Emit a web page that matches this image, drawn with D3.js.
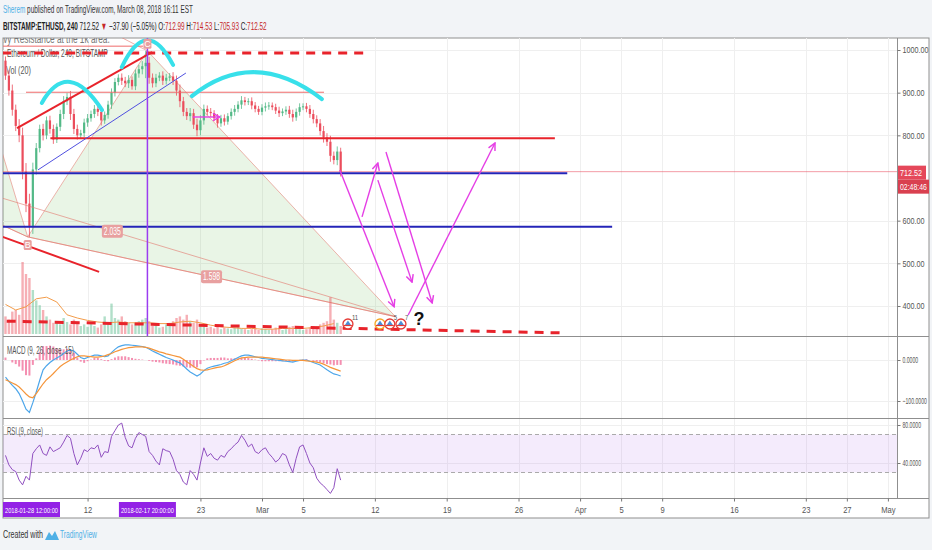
<!DOCTYPE html>
<html>
<head>
<meta charset="utf-8">
<script src="https://cdn.jsdelivr.net/npm/d3@7"></script>
<style>
body { margin: 0; background: #fff; }
svg { display: block; }
text { font-family: "Liberation Sans", Arial, sans-serif; }
</style>
</head>
<body>
<div id="chart"></div>
<script>
// ---- series (8h bars) ----
var barStart = "2018-02-04T00:00:00Z";
var barHours = 8;
var firstOpen = 975;
var closes = [
	940, 905, 860, 822, 800, 715, 640, 585, 720, 770,
	815, 800, 835, 815, 790, 820, 850, 880, 890, 850,
	815, 800, 805, 830, 840, 850, 862, 855, 835, 848,
	872, 900, 925, 935, 928, 922, 930, 915, 945, 955,
	962, 970, 935, 922, 935, 940, 928, 935, 938, 928,
	905, 880, 855, 845, 852, 825, 812, 835, 862, 855,
	852, 840, 828, 840, 832, 845, 855, 862, 872, 882,
	878, 880, 870, 862, 855, 865, 868, 870, 866, 858,
	852, 856, 860, 850, 842, 855, 866, 868, 862, 850,
	838, 828, 810, 795, 785, 752, 742, 762, 712.52
];
var wicks = [
	10, 12, 14, 12, 16, 18, 20, 23, 16, 12,
	10, 12, 9, 11, 10, 8, 10, 12, 9, 14,
	12, 10, 8, 9, 10, 8, 9, 10, 12, 8,
	9, 10, 9, 8, 10, 9, 11, 8, 9, 10,
	12, 28, 14, 10, 9, 8, 10, 9, 8, 10,
	12, 14, 10, 9, 12, 10, 14, 12, 10, 8,
	9, 7, 10, 8, 9, 7, 8, 9, 8, 10,
	8, 7, 9, 8, 7, 8, 9, 8, 7, 8,
	9, 7, 8, 9, 10, 8, 9, 7, 8, 9,
	10, 9, 10, 12, 10, 14, 10, 12, 9
];
var volumes = [
	22, 18, 28, 30, 24, 90, 75, 70, 55, 42,
	36, 30, 22, 18, 14, 16, 12, 20, 15, 12,
	18, 14, 10, 12, 9, 14, 10, 8, 12, 22,
	14, 38, 20, 18, 22, 16, 14, 12, 14, 16,
	18, 20, 16, 10, 12, 8, 9, 12, 14, 16,
	20, 22, 18, 24, 16, 14, 18, 12, 10, 8,
	9, 7, 10, 6, 8, 7, 6, 8, 9, 7,
	6, 5, 6, 8, 5, 7, 6, 5, 6, 8,
	7, 5, 6, 9, 10, 7, 6, 5, 6, 8,
	10, 9, 12, 14, 16, 46, 18, 14, 10
];
// Vol MA(20), one point per day (every 3rd bar)
var volMA = [37, 30, 34, 44, 46, 40, 24, 20, 17, 15, 14, 15, 14, 14, 14, 13, 13,
	15, 16, 14, 11, 9, 8, 7, 7, 6, 6, 7, 7, 7, 8, 10, 13];
var macdLine = [
	-42, -52, -62, -70, -82, -100, -120, -128, -104, -78,
	-50, -24, -14, -6, 0, 5, 10, 16, 22, 24,
	22, 14, 6, 3, 6, 9, 12, 12, 10, 8,
	10, 18, 26, 32, 35, 37, 37, 36, 35, 34,
	33, 31, 27, 22, 18, 14, 10, 6, 3, 0,
	-4, -7, -14, -22, -29, -34, -39, -34, -26, -20,
	-17, -15, -13, -11, -8, -6, -2, 2, 6, 10,
	12, 12, 10, 8, 6, 4, 3, 2, 1, 0,
	-1, -2, -3, -4, -5, -3, -1, 0, 0, -3,
	-6, -9, -12, -18, -24, -29, -34, -36, -39
];
var signalLine = [
	-48, -52, -56, -60, -66, -74, -83, -90, -92, -82,
	-70, -58, -48, -41, -33, -24, -16, -10, -5, 0,
	4, 8, 10, 10, 9, 8, 7, 7, 8, 10,
	13, 16, 20, 23, 26, 28, 30, 31, 32, 32,
	32, 31, 29, 26, 23, 20, 18, 15, 13, 11,
	9, 7, 2, -4, -10, -16, -21, -24, -25, -24,
	-22, -20, -18, -17, -14, -10, -6, -2, 2, 5,
	6, 7, 7, 7, 7, 7, 6, 5, 4, 3,
	2, 1, 0, 0, -1, -1, -1, -1, -2, -3,
	-4, -5, -7, -10, -14, -18, -21, -24, -27
];
var rsiValues = [
	48, 38, 33, 31, 22, 17, 26, 22, 50, 55,
	59, 50, 48, 57, 52, 54, 56, 62, 69, 66,
	50, 38, 45, 54, 52, 56, 55, 59, 46, 52,
	51, 68, 74, 80, 82, 67, 58, 56, 66, 72,
	70, 68, 52, 48, 42, 38, 55, 53, 52, 44,
	32, 28, 20, 17, 32, 28, 22, 40, 56, 47,
	50, 45, 43, 48, 46, 52, 55, 59, 62, 69,
	64, 57, 60, 52, 50, 54, 56, 50, 46, 41,
	44, 50, 48, 38, 30, 45, 57, 59, 50, 40,
	35, 24, 19, 16, 12, 8, 14, 34, 22
];

// ---- axes ----
var priceTicks = [400, 500, 600, 800, 900, 1000];
var macdTicks = [0, -100];
var rsiTicks = [80, 40];
var timeTickDates = ["2018-02-12", "2018-02-23", "2018-03-01", "2018-03-05", "2018-03-12", "2018-03-19",
	"2018-03-26", "2018-04-01", "2018-04-05", "2018-04-09", "2018-04-16", "2018-04-23", "2018-04-27", "2018-05-01"];
var timeTickText = ["12", "23", "Mar", "5", "12", "19", "26", "Apr", "5", "9", "16", "23", "27", "May"];
var markedTimes = ["2018-01-28 12:00:00", "2018-02-17 20:00:00"];

// ---- drawings: [time, price] anchors ----
var patternPts = { X: ["2018-01-17T20:00Z", 775], A: ["2018-01-28T12:00Z", 1250], B: ["2018-02-06T04:00Z", 562],
	C: ["2018-02-17T20:00Z", 998], D: ["2018-03-14T00:00Z", 375] };
var patternRatios = [["X", "D", "2.035"], ["B", "D", "1.598"]];
var redDashed = [
	[["2018-01-30T00:00Z", 993], ["2018-03-11T01:00Z", 993]],
	[["2018-02-01T00:00Z", 366], ["2018-03-30T01:00Z", 337]]
];
var redLines = [
	[["2018-02-05T03:00Z", 817], ["2018-02-18T07:00Z", 995]],
	[["2018-02-03T12:00Z", 564], ["2018-02-13T03:00Z", 480]],
	[["2018-02-08T09:00Z", 793], ["2018-03-29T13:00Z", 793]]
];
var thinRedLines = [
	[["2018-02-06T00:00Z", 901], ["2018-03-07T01:00Z", 901]],
	[["2018-02-01T00:00Z", 1009], ["2018-02-17T10:00Z", 1009]]
];
var blueLines = [
	[["2018-02-01T00:00Z", 711], ["2018-03-30T18:00Z", 711]],
	[["2018-02-01T00:00Z", 586], ["2018-04-04T03:00Z", 586]]
];
var blueDiag = [["2018-02-07T04:00Z", 719], ["2018-02-21T14:00Z", 946]];
var arcs = [
	[["2018-02-07T13:00Z", 876], ["2018-02-10T07:00Z", 925], ["2018-02-13T10:00Z", 859]],
	[["2018-02-15T08:00Z", 960], ["2018-02-17T19:00Z", 1023], ["2018-02-20T08:00Z", 965]],
	[["2018-02-22T04:00Z", 892], ["2018-02-28T08:00Z", 948], ["2018-03-06T20:00Z", 885]]
];
var arrows = [
	[["2018-02-22T06:00Z", 843], ["2018-02-24T22:00Z", 843]],
	[["2018-03-08T14:00Z", 719], ["2018-03-13T21:00Z", 398]],
	[["2018-03-10T18:00Z", 609], ["2018-03-12T07:00Z", 735]],
	[["2018-03-12T07:00Z", 695], ["2018-03-15T15:00Z", 456]],
	[["2018-03-13T02:00Z", 761], ["2018-03-17T14:00Z", 407]],
	[["2018-03-15T06:00Z", 379], ["2018-03-23T17:00Z", 782]]
];
var markTime = "2018-02-17T20:00Z";
var ideaTimes = ["2018-03-09T09:00Z", "2018-03-12T12:00Z", "2018-03-13T11:00Z", "2018-03-14T13:00Z"];
var ideaCounts = ["11", "", "5", "7"];
var ideaRings = ["#e53935", "#f5a623", "#e53935", "#e53935"];
var questionAt = ["2018-03-16T07:00Z", 372];
var lastPrice = 712.52;

// ---- layout ----
var W = 932, H = 550;
var L = 3, R = 897, FR = 929;
var mainTop = 38, mainBot = 336, macdBot = 418, rsiBot = 498, axisBot = 518;

var x = d3.scaleUtc()
	.domain([new Date("2018-02-01T00:00:00Z"), new Date("2018-05-01T00:00:00Z")])
	.range([-25.3, 887.9]);
var y = d3.scaleLinear().domain([400, 1000]).range([306, 50]);
var yVol = d3.scaleLinear().domain([0, 90]).range([334, 262]);
var yMacd = d3.scaleLinear().domain([-100, 0]).range([401, 360]);
var yRsi = d3.scaleLinear().domain([40, 80]).range([463, 425]);

function P(a) { return [x(new Date(a[0])), y(a[1])]; }

// squeeze a text horizontally (the reference uses a narrow font)
function squeeze(node, w) {
	var len = node.getComputedTextLength();
	if (!len) return;
	var ax = +node.getAttribute("x") || 0;
	node.setAttribute("transform", "translate(" + ax + ",0) scale(" + (w / len) + ",1) translate(" + (-ax) + ",0)");
}
function squeezeBy(node, k) { squeeze(node, node.getComputedTextLength() * k); }

var t0 = new Date(barStart);
var bars = closes.map(function(c, i) {
	var o = i === 0 ? firstOpen : closes[i - 1];
	return { t: d3.utcHour.offset(t0, i * barHours), o: o, c: c,
		h: Math.max(o, c) + wicks[i], l: Math.min(o, c) - wicks[i],
		v: volumes[i], macd: macdLine[i], sig: signalLine[i], rsi: rsiValues[i] };
});

var svg = d3.select("#chart").append("svg").attr("width", W).attr("height", H);
var defs = svg.append("defs");
function clip(id, y0, y1) {
	defs.append("clipPath").attr("id", id).append("rect")
		.attr("x", L).attr("y", y0).attr("width", R - L).attr("height", y1 - y0);
}
clip("cMain", mainTop, mainBot);
clip("cMacd", mainBot, macdBot);
clip("cRsi", macdBot, rsiBot);
defs.append("marker").attr("id", "arr").attr("viewBox", "0 0 10 10")
	.attr("refX", 9).attr("refY", 5).attr("markerWidth", 9).attr("markerHeight", 9)
	.attr("markerUnits", "userSpaceOnUse").attr("orient", "auto")
	.append("path").attr("d", "M1,1 L9,5 L1,9").attr("fill", "none")
	.attr("stroke", "#e53ee5").attr("stroke-width", 1.6);

// background + frame
svg.append("rect").attr("width", W).attr("height", H).attr("fill", "#f2f4f7");
svg.append("rect").attr("x", L).attr("y", mainTop).attr("width", FR - L).attr("height", axisBot - mainTop)
	.attr("fill", "#fff").attr("stroke", "#8f8f8f");

// header
var h1 = svg.append("text").attr("x", 3).attr("y", 13).attr("font-size", 11).attr("fill", "#333");
h1.append("tspan").attr("fill", "#4fb0e6").text("Sherem");
h1.append("tspan").text(" published on TradingView.com, March 08, 2018 16:11 EST");
squeeze(h1.node(), 190);
var h2 = svg.append("text").attr("x", 3).attr("y", 30).attr("font-size", 11).attr("fill", "#222");
h2.append("tspan").attr("font-weight", "bold").text("BITSTAMP:ETHUSD, 240");
h2.append("tspan").text(" 712.52 ");
h2.append("tspan").attr("fill", "#c62828").text("▼");
h2.append("tspan").text(" −37.90 (−5.05%) O:");
h2.append("tspan").attr("fill", "#c62828").text("712.99");
h2.append("tspan").text(" H:");
h2.append("tspan").attr("fill", "#c62828").text("714.53");
h2.append("tspan").text(" L:");
h2.append("tspan").attr("fill", "#c62828").text("705.93");
h2.append("tspan").text(" C:");
h2.append("tspan").attr("fill", "#c62828").text("712.52");
squeeze(h2.node(), 264);

// grid
var grid = svg.append("g").attr("stroke", "#efefef").attr("stroke-width", 1);
timeTickDates.forEach(function(d) {
	var xx = Math.round(x(new Date(d))) + 0.5;
	if (xx < R) grid.append("line").attr("x1", xx).attr("x2", xx).attr("y1", mainTop).attr("y2", rsiBot);
});
priceTicks.forEach(function(p) {
	grid.append("line").attr("x1", L).attr("x2", R).attr("y1", Math.round(y(p)) + 0.5).attr("y2", Math.round(y(p)) + 0.5);
});
macdTicks.forEach(function(p) {
	grid.append("line").attr("x1", L).attr("x2", R).attr("y1", Math.round(yMacd(p)) + 0.5).attr("y2", Math.round(yMacd(p)) + 0.5);
});
rsiTicks.forEach(function(p) {
	grid.append("line").attr("x1", L).attr("x2", R).attr("y1", Math.round(yRsi(p)) + 0.5).attr("y2", Math.round(yRsi(p)) + 0.5);
});

// ---- main pane ----
var main = svg.append("g").attr("clip-path", "url(#cMain)");
var pp = {};
Object.keys(patternPts).forEach(function(k) { pp[k] = P(patternPts[k]); });

// pattern triangles
[["X", "A", "B"], ["B", "C", "D"]].forEach(function(tri) {
	main.append("path").attr("d", "M" + tri.map(function(k) { return pp[k].join(","); }).join("L") + "Z")
		.attr("fill", "rgba(120,190,100,0.16)").attr("stroke", "rgba(226,120,110,0.55)").attr("stroke-width", 1);
});

// volume
main.selectAll("rect.vol").data(bars).enter().append("rect").attr("class", "vol")
	.attr("x", function(d) { return x(d.t) - 1.2; }).attr("width", 2.4)
	.attr("y", function(d) { return yVol(d.v); })
	.attr("height", function(d) { return yVol(0) - yVol(d.v); })
	.attr("fill", function(d) { return d.c >= d.o ? "rgba(83,185,135,0.45)" : "rgba(235,77,92,0.45)"; });
main.append("path").datum(volMA)
	.attr("d", d3.line().x(function(d, i) { return x(bars[i * 3].t); }).y(function(d) { return yVol(d); }))
	.attr("fill", "none").attr("stroke", "#f39c4a").attr("stroke-width", 1);

// legend texts
var hv = main.append("text").attr("x", -12).attr("y", 43).attr("font-size", 13).attr("fill", "#777")
	.text("Heavy Resistance at the 1k area.");
squeeze(hv.node(), 122);
var lg = main.append("text").attr("x", 7).attr("y", 57).attr("font-size", 10.5).attr("fill", "#555")
	.text("Ethereum / Dollar, 240, BITSTAMP");
squeeze(lg.node(), 101);
var lv = main.append("text").attr("x", 6).attr("y", 74).attr("font-size", 10.5).attr("fill", "#555").text("Vol (20)");
squeeze(lv.node(), 25);

// candles
var cg = main.append("g");
cg.selectAll("line").data(bars).enter().append("line")
	.attr("x1", function(d) { return x(d.t); }).attr("x2", function(d) { return x(d.t); })
	.attr("y1", function(d) { return y(d.h); }).attr("y2", function(d) { return y(d.l); })
	.attr("stroke", function(d) { return d.c >= d.o ? "#53b987" : "#eb4d5c"; }).attr("stroke-width", 0.8);
cg.selectAll("rect").data(bars).enter().append("rect")
	.attr("x", function(d) { return x(d.t) - 1.1; }).attr("width", 2.2)
	.attr("y", function(d) { return y(Math.max(d.o, d.c)); })
	.attr("height", function(d) { return Math.max(1, Math.abs(y(d.o) - y(d.c))); })
	.attr("fill", function(d) { return d.c >= d.o ? "#53b987" : "#eb4d5c"; });

// pattern lines
[["X", "B"], ["A", "C"], ["X", "D"], ["B", "D"]].forEach(function(s) {
	main.append("line").attr("x1", pp[s[0]][0]).attr("y1", pp[s[0]][1]).attr("x2", pp[s[1]][0]).attr("y2", pp[s[1]][1])
		.attr("stroke", "rgba(226,120,110,0.6)").attr("stroke-width", 1);
});

function seg(g, s, col, w, dash) {
	var a = P(s[0]), b = P(s[1]);
	return g.append("line").attr("x1", a[0]).attr("y1", a[1]).attr("x2", b[0]).attr("y2", b[1])
		.attr("stroke", col).attr("stroke-width", w).attr("stroke-dasharray", dash || null);
}
// last price line (under the drawings)
main.append("line").attr("x1", L).attr("x2", R).attr("y1", y(lastPrice) - 1).attr("y2", y(lastPrice) - 1)
	.attr("stroke", "rgba(235,77,92,0.55)").attr("stroke-width", 1);

thinRedLines.forEach(function(s) { seg(main, s, "#ef6b6b", 1); });
redDashed.forEach(function(s) { seg(main, s, "#e8232b", 3, "9,7"); });
redLines.forEach(function(s) { seg(main, s, "#e8232b", 2); });
blueLines.forEach(function(s) { seg(main, s, "#2424b8", 2); });
seg(main, blueDiag, "#5050e0", 1);

// arcs
arcs.forEach(function(a) {
	var p0 = P(a[0]), p1 = P(a[1]), p2 = P(a[2]);
	var cx = 2 * p1[0] - (p0[0] + p2[0]) / 2, cy = 2 * p1[1] - (p0[1] + p2[1]) / 2;
	var path = d3.path();
	path.moveTo(p0[0], p0[1]);
	path.quadraticCurveTo(cx, cy, p2[0], p2[1]);
	main.append("path").attr("d", path.toString()).attr("fill", "none")
		.attr("stroke", "#38e0ea").attr("stroke-width", 4).attr("stroke-linecap", "round");
});

// vertical mark
var mx = x(new Date(markTime));
main.append("line").attr("x1", mx).attr("x2", mx).attr("y1", mainTop).attr("y2", mainBot)
	.attr("stroke", "#9b3cf0").attr("stroke-width", 1.5);

// arrows
arrows.forEach(function(s) { seg(main, s, "#e53ee5", 1.4).attr("marker-end", "url(#arr)"); });

// ratio labels
patternRatios.forEach(function(r) {
	var a = pp[r[0]], b = pp[r[1]];
	var cx = (a[0] + b[0]) / 2, cy = (a[1] + b[1]) / 2;
	main.append("rect").attr("x", cx - 10.5).attr("y", cy - 6.5).attr("width", 21).attr("height", 13).attr("rx", 2)
		.attr("fill", "#e8a0a0");
	var t = main.append("text").attr("x", cx).attr("y", cy + 3.5).attr("text-anchor", "middle").attr("font-size", 10)
		.attr("fill", "#fff").text(r[2]);
	squeeze(t.node(), 17);
});
// point labels
[["B", 1], ["C", -1]].forEach(function(k) {
	var p = pp[k[0]];
	var yy = k[1] > 0 ? p[1] + 3 : p[1] - 12;
	main.append("rect").attr("x", p[0] - 4).attr("y", yy).attr("width", 8).attr("height", 10).attr("rx", 1.5)
		.attr("fill", "#e8a0a0");
	main.append("text").attr("x", p[0]).attr("y", yy + 8.5).attr("text-anchor", "middle").attr("font-size", 9)
		.attr("fill", "#fff").text(k[0]);
});

// idea markers
ideaTimes.forEach(function(t, i) {
	var cx = x(new Date(t)), cy = 324;
	main.append("circle").attr("cx", cx).attr("cy", cy).attr("r", 5).attr("fill", "#fff")
		.attr("stroke", ideaRings[i]).attr("stroke-width", 1.3);
	main.append("path").attr("d", "M" + (cx - 3) + "," + (cy + 1) + "L" + cx + "," + (cy - 3.5) + "L" + (cx + 3) + "," + (cy + 1) + "Z")
		.attr("fill", "#4a8fd8");
	main.append("line").attr("x1", cx - 4).attr("x2", cx + 4).attr("y1", cy + 1.5).attr("y2", cy + 1.5)
		.attr("stroke", "#e53935").attr("stroke-width", 1.2);
	if (ideaCounts[i]) {
		var n = main.append("text").attr("x", cx + 4).attr("y", cy - 4).attr("font-size", 8)
			.attr("fill", "#555").text(ideaCounts[i]);
		squeezeBy(n.node(), 0.75);
	}
});
var q = P(questionAt);
main.append("text").attr("x", q[0]).attr("y", q[1] + 7).attr("font-size", 18).attr("font-weight", "bold")
	.attr("fill", "#111").attr("text-anchor", "middle").text("?");

// ---- MACD pane ----
var mg = svg.append("g").attr("clip-path", "url(#cMacd)");
mg.selectAll("rect").data(bars).enter().append("rect")
	.attr("x", function(d) { return x(d.t) - 1; }).attr("width", 2)
	.attr("y", function(d) { return Math.min(yMacd(0), yMacd(d.macd - d.sig)); })
	.attr("height", function(d) { return Math.abs(yMacd(d.macd - d.sig) - yMacd(0)); })
	.attr("fill", "#f48fb1");
mg.append("path").datum(bars)
	.attr("d", d3.line().x(function(d) { return x(d.t); }).y(function(d) { return yMacd(d.macd); }))
	.attr("fill", "none").attr("stroke", "#4da6ea").attr("stroke-width", 1.2);
mg.append("path").datum(bars)
	.attr("d", d3.line().x(function(d) { return x(d.t); }).y(function(d) { return yMacd(d.sig); }))
	.attr("fill", "none").attr("stroke", "#f5953a").attr("stroke-width", 1.2);
var ml = mg.append("text").attr("x", 7).attr("y", 354).attr("font-size", 10.5).attr("fill", "#555").text("MACD (9, 26, close, 15)");
squeeze(ml.node(), 67);

// ---- RSI pane ----
var rg = svg.append("g").attr("clip-path", "url(#cRsi)");
rg.append("rect").attr("x", L).attr("width", R - L).attr("y", yRsi(70)).attr("height", yRsi(30) - yRsi(70))
	.attr("fill", "rgba(170,100,230,0.13)");
[70, 30].forEach(function(v) {
	rg.append("line").attr("x1", L).attr("x2", R).attr("y1", yRsi(v)).attr("y2", yRsi(v))
		.attr("stroke", "#aaa").attr("stroke-dasharray", "4,3");
});
rg.append("path").datum(bars)
	.attr("d", d3.line().x(function(d) { return x(d.t); }).y(function(d) { return yRsi(d.rsi); }))
	.attr("fill", "none").attr("stroke", "#9050c0").attr("stroke-width", 1);
var rl = rg.append("text").attr("x", 7).attr("y", 435).attr("font-size", 10.5).attr("fill", "#555").text("RSI (9, close)");
squeeze(rl.node(), 36);

// separators
var sep = svg.append("g").attr("stroke", "#8f8f8f");
[mainBot, macdBot, rsiBot].forEach(function(yy) {
	sep.append("line").attr("x1", L).attr("x2", FR).attr("y1", yy + 0.5).attr("y2", yy + 0.5);
});
sep.append("line").attr("x1", R + 0.5).attr("x2", R + 0.5).attr("y1", mainTop).attr("y2", rsiBot);

// right axes
function rightAxis(scale, ticks, fmt, k) {
	var g = svg.append("g").attr("transform", "translate(" + (R + 0.5) + ",0)")
		.call(d3.axisRight(scale).tickValues(ticks).tickFormat(fmt).tickSize(3).tickPadding(2));
	g.select(".domain").remove();
	g.selectAll("line").attr("stroke", "#777");
	g.selectAll("text").attr("font-size", 9).attr("fill", "#555").attr("font-family", "'Liberation Sans',Arial,sans-serif")
		.each(function() { squeezeBy(this, k); });
}
rightAxis(y, priceTicks, d3.format(".2f"), 0.8);
rightAxis(yMacd, macdTicks, d3.format(".4f"), 0.57);
rightAxis(yRsi, rsiTicks, d3.format(".4f"), 0.57);

// last price labels
var lpY = y(lastPrice);
svg.append("rect").attr("x", R + 1).attr("y", lpY - 7).attr("width", 28).attr("height", 14).attr("fill", "#e5485a");
var lp1 = svg.append("text").attr("x", R + 3).attr("y", lpY + 3.5).attr("font-size", 9.5).attr("fill", "#fff").text("712.52");
squeeze(lp1.node(), 22);
svg.append("rect").attr("x", R + 1).attr("y", lpY + 7).attr("width", 31).attr("height", 14).attr("fill", "#d9404f");
var lp2 = svg.append("text").attr("x", R + 3).attr("y", lpY + 17.5).attr("font-size", 9.5).attr("fill", "#fff").text("02:48:46");
squeeze(lp2.node(), 27);

// time axis
var ta = svg.append("g").attr("transform", "translate(0," + (rsiBot + 0.5) + ")")
	.call(d3.axisBottom(x).tickValues(timeTickDates.map(function(d) { return new Date(d + "T00:00:00Z"); }))
		.tickFormat(function(d, i) { return timeTickText[i]; }).tickSize(3).tickPadding(5));
ta.select(".domain").remove();
ta.selectAll("line").attr("stroke", "#777");
ta.selectAll("text").attr("font-size", 9.5).attr("fill", "#555").attr("font-family", "'Liberation Sans',Arial,sans-serif")
	.each(function() { squeezeBy(this, 0.8); });

// marked times on axis
var mk1x = L, mk2x = x(new Date(markTime)) - 28.5;
[[mk1x, markedTimes[0]], [mk2x, markedTimes[1]]].forEach(function(m) {
	svg.append("rect").attr("x", m[0]).attr("y", 502).attr("width", 57).attr("height", 15).attr("fill", "#9322e6");
	svg.append("text").attr("x", m[0] + 28.5).attr("y", 512.5).attr("text-anchor", "middle").attr("font-size", 7.5)
		.attr("fill", "#fff").attr("textLength", 53).attr("lengthAdjust", "spacingAndGlyphs").text(m[1]);
});

// footer
var f1 = svg.append("text").attr("x", 3).attr("y", 538).attr("font-size", 11).attr("fill", "#333").text("Created with");
squeeze(f1.node(), 40);
svg.append("path").attr("d", "M45,540 L49,532 L52,536 L55,531 L59,540 Z").attr("fill", "#4fb0e6");
var f2 = svg.append("text").attr("x", 60).attr("y", 538).attr("font-size", 11).attr("fill", "#4fb0e6").text("TradingView");
squeeze(f2.node(), 37);
</script>
</body>
</html>
